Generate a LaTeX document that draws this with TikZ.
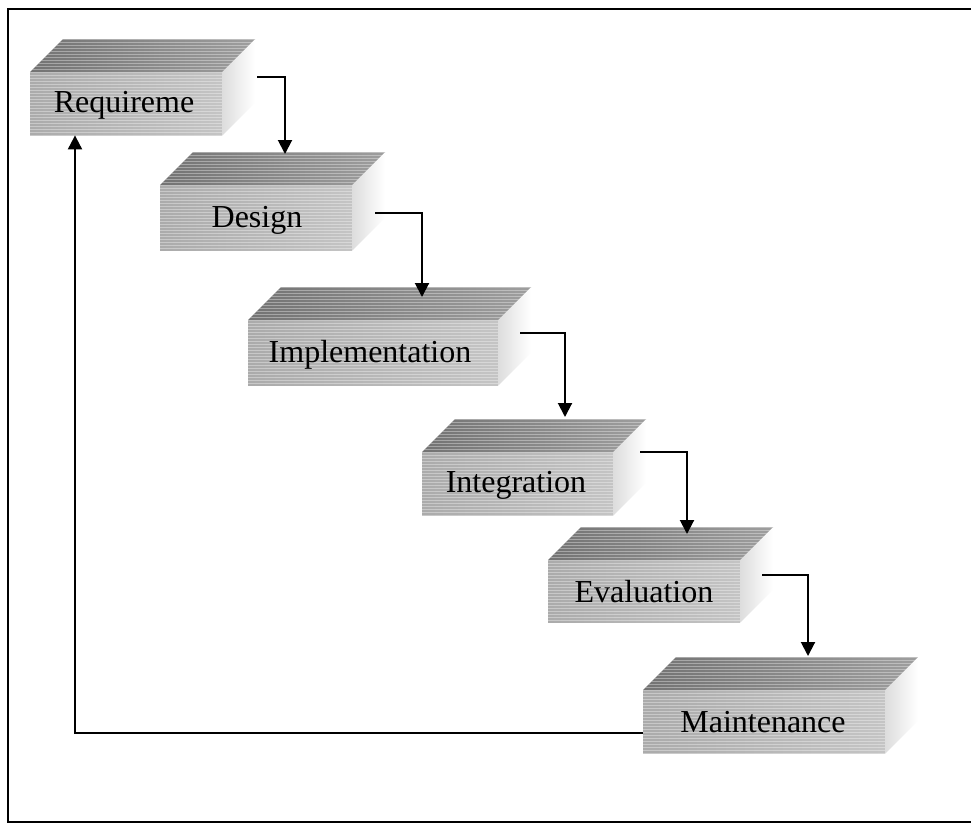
\documentclass[tikz,border=0pt]{standalone}
\usepackage{fontspec}
\setmainfont{Liberation Serif}
\usetikzlibrary{arrows.meta,calc}

% depth of the block's top and side faces
\newcommand\blockdepth{33}

\tikzset{
  stripes/.style={path picture={
      \foreach \k in {0,3,...,140}
        \draw[white, opacity=.35, line width=.9pt]
          ([yshift=-\k pt]path picture bounding box.north west) -- ++(320pt,0);}},
  front/.style={draw=none, inner sep=0pt, shade, shading angle=90,
    left color=black!33, right color=black!23, stripes},
  topface/.style={shade, left color=black!55, right color=black!38, stripes},
  sideface/.style={shade, left color=black!13, right color=white},
  lbl/.style={inner sep=0pt, font=\fontsize{32}{38}\selectfont},
  flow/.style={line width=2pt, -{Triangle[length=14pt,width=14pt]}},
  frame/.style={line width=2.2pt},
}

% \stagebox{name}{x}{y}{width}{height}{label x}{label baseline}{text}
\newcommand\stagebox[8]{%
  \node[front, anchor=north west, minimum width=#4pt, minimum height=#5pt] (#1) at (#2,#3) {};
  \path[topface] (#1.north west) -- ++(\blockdepth,-\blockdepth)
     -- ([shift={(\blockdepth,-\blockdepth)}]#1.north east) -- (#1.north east) -- cycle;
  \path[sideface] (#1.north east) -- ++(\blockdepth,-\blockdepth)
     -- ([shift={(\blockdepth,-\blockdepth)}]#1.south east) -- (#1.south east) -- cycle;
  \node[lbl, anchor=base] (#1-text) at (#6,#7) {#8};
}

\begin{document}
\begin{tikzpicture}[x=1pt, y=-1pt]
  \fill[white] (0,0) rectangle (971,825);
  \useasboundingbox (0,0) rectangle (971,825);

  % outer frame (right side runs off the page)
  \draw[frame] (995,9) -- (8,9) -- (8,822) -- (995,822);

  % the six stages
  \stagebox{req}{30}{72}{192}{63}{124}{112}{Requireme}
  \stagebox{des}{160}{185}{192}{65}{257}{227}{Design}
  \stagebox{imp}{248}{320}{250}{65}{370}{362}{Implementation}
  \stagebox{int}{422}{452}{191}{63}{516}{492}{Integration}
  \stagebox{eva}{548}{560}{192}{62}{644}{602}{Evaluation}
  \stagebox{mai}{643}{690}{242}{63}{763}{732}{Maintenance}

  % connector end points on the blocks
  \coordinate (s1) at ([shift={(35,5)}]req.north east);
  \coordinate (t1) at ([shift={(125,-31)}]des.north west);
  \coordinate (s2) at ([shift={(23,28)}]des.north east);
  \coordinate (t2) at ([shift={(174,-23)}]imp.north west);
  \coordinate (s3) at ([shift={(22,13)}]imp.north east);
  \coordinate (t3) at ([shift={(143,-35)}]int.north west);
  \coordinate (s4) at ([shift={(27,0)}]int.north east);
  \coordinate (t4) at ([shift={(139,-26)}]eva.north west);
  \coordinate (s5) at ([shift={(22,15)}]eva.north east);
  \coordinate (t5) at ([shift={(165,-34)}]mai.north west);
  \coordinate (s6) at ([shift={(0,-20)}]mai.south west);
  \coordinate (t6) at ([shift={(45,0)}]req.south west);

  \draw[flow] (s1) -| (t1);
  \draw[flow] (s2) -| (t2);
  \draw[flow] (s3) -| (t3);
  \draw[flow] (s4) -| (t4);
  \draw[flow] (s5) -| (t5);
  \draw[flow] (s6) -| (t6);
\end{tikzpicture}
\end{document}
